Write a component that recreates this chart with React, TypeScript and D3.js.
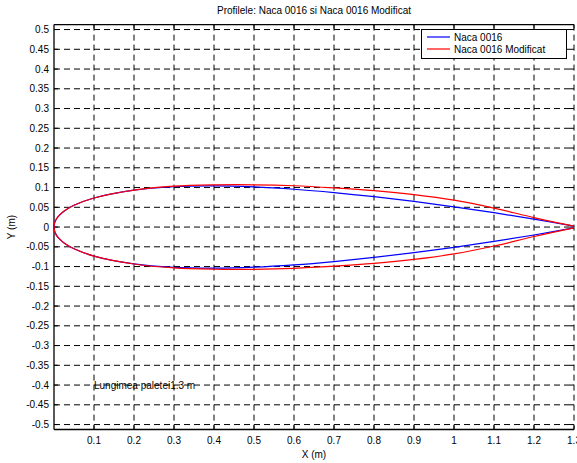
import React from "react";
import * as d3 from "d3";

// Upper-surface half-thickness (symmetric lower surface)
const xs = [0, 0.002, 0.006, 0.013, 0.026, 0.05, 0.1, 0.2, 0.3, 0.4, 0.5, 0.6, 0.7, 0.8, 0.9, 1.0, 1.1, 1.2, 1.3];
const naca = [0, 0.012, 0.0204, 0.0295, 0.0409, 0.055, 0.0735, 0.0933, 0.102, 0.104, 0.1015, 0.0957, 0.0873, 0.0769, 0.0648, 0.0513, 0.0363, 0.0201, 0.0022];
const nacaMod = [0, 0.012, 0.0204, 0.0295, 0.041, 0.055, 0.0735, 0.0935, 0.1035, 0.1068, 0.107, 0.1045, 0.099, 0.092, 0.082, 0.068, 0.048, 0.024, 0.0022];

const xTicks = [0.1, 0.2, 0.3, 0.4, 0.5, 0.6, 0.7, 0.8, 0.9, 1, 1.1, 1.2, 1.3];
const yTicks = [0.5, 0.45, 0.4, 0.35, 0.3, 0.25, 0.2, 0.15, 0.1, 0.05, 0, -0.05, -0.1, -0.15, -0.2, -0.25, -0.3, -0.35, -0.4, -0.45, -0.5];

const seriesNames = ["Naca 0016", "Naca 0016 Modificat"];
const seriesColors = ["#0000ff", "#ff0000"];

const W = 577, H = 463;
const L = 54, R = 574;
const FONT = "'Liberation Sans', Arial, sans-serif";

export default function App() {
  const x = d3.scaleLinear().domain([0, 1.3]).range([L, R]);
  const y = d3.scaleLinear().domain([-0.5125, 0.5125]).range([429.5, 24.6]);
  const T = y(0.5125), B = y(-0.5125);

  const profile = (vals: number[]) => {
    const pts: [number, number][] = [];
    for (let i = xs.length - 1; i >= 0; i--) pts.push([xs[i], vals[i]]);
    for (let i = 1; i < xs.length; i++) pts.push([xs[i], -vals[i]]);
    return d3.line<[number, number]>().x(d => x(d[0])).y(d => y(d[1])).curve(d3.curveCatmullRom.alpha(0.5))(pts) || "";
  };

  const fmt = (v: number) => String(+v.toFixed(2));

  return (
    <svg width={W} height={H} style={{ position: "absolute", left: 0, top: 0, background: "#fff" }} fontFamily={FONT}>
      <rect x={0} y={0} width={W} height={H} fill="#fff" />
      {/* grid */}
      {yTicks.map(t => (
        <line key={"gy" + t} x1={L} x2={R} y1={y(t)} y2={y(t)} stroke="#000" strokeWidth={1} strokeDasharray="6,4" />
      ))}
      {xTicks.map(t => (
        <line key={"gx" + t} x1={x(t)} x2={x(t)} y1={T} y2={B} stroke="#000" strokeWidth={1} strokeDasharray="6,4" />
      ))}
      {/* ticks */}
      {yTicks.map(t => (
        <g key={"ty" + t}>
          <line x1={L} x2={L + 4} y1={y(t)} y2={y(t)} stroke="#000" />
          <line x1={R} x2={R - 4} y1={y(t)} y2={y(t)} stroke="#000" />
          <text x={L - 5} y={y(t)} dy="0.35em" textAnchor="end" fontSize={10} fill="#000">{fmt(t)}</text>
        </g>
      ))}
      {xTicks.map(t => (
        <g key={"tx" + t}>
          <line x1={x(t)} x2={x(t)} y1={B} y2={B - 4} stroke="#000" />
          <line x1={x(t)} x2={x(t)} y1={T} y2={T + 4} stroke="#000" />
          <text x={x(t)} y={B + 14} textAnchor="middle" fontSize={10} fill="#000">{fmt(t)}</text>
        </g>
      ))}
      {/* axes box */}
      <line x1={L} x2={L} y1={T} y2={B} stroke="#000" strokeWidth={1.3} />
      <line x1={L} x2={R} y1={B} y2={B} stroke="#000" strokeWidth={1.3} />
      <line x1={L} x2={R} y1={T} y2={T} stroke="#000" strokeWidth={1.3} />
      {/* profiles */}
      <path d={profile(naca)} fill="none" stroke={seriesColors[0]} strokeWidth={1.2} />
      <path d={profile(nacaMod)} fill="none" stroke={seriesColors[1]} strokeWidth={1.2} />
      {/* annotation */}
      <text x={x(0.1)} y={y(-0.4)} dy="0.35em" fontSize={10} fill="#000">Lungimea paletei1.3 m</text>
      {/* legend */}
      <rect x={421.5} y={29.5} width={145} height={29} fill="#fff" stroke="#000" strokeWidth={1} />
      {seriesNames.map((n, i) => (
        <g key={n}>
          <line x1={427} x2={450} y1={37 + i * 12} y2={37 + i * 12} stroke={seriesColors[i]} strokeWidth={1.2} />
          <text x={454} y={37 + i * 12} dy="0.35em" fontSize={10} fill="#000">{n}</text>
        </g>
      ))}
      {/* titles */}
      <text x={(L + R) / 2} y={14} textAnchor="middle" fontSize={10} fill="#000">Profilele: Naca 0016 si Naca 0016 Modificat</text>
      <text x={(L + R) / 2} y={458} textAnchor="middle" fontSize={10} fill="#000">X (m)</text>
      <text transform={`translate(15,${y(0)}) rotate(-90)`} textAnchor="middle" fontSize={10} fill="#000">Y (m)</text>
    </svg>
  );
}
